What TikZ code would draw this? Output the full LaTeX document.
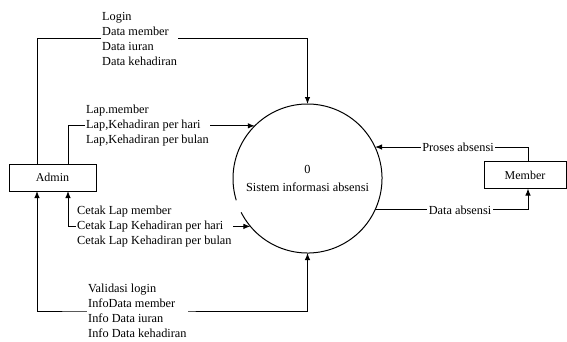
\documentclass[tikz,border=0pt]{standalone}
\usepackage{fontspec}
\setmainfont{Liberation Serif}
\usetikzlibrary{arrows.meta,calc,backgrounds}
\begin{document}
\begin{tikzpicture}[x=1pt,y=1pt,
  box/.style={draw,line width=1pt,minimum height=27pt,inner sep=0pt,outer sep=0pt,font=\fontsize{12}{15}\selectfont},
  lbl/.style={fill=white,inner sep=1.5pt,align=left,anchor=west,font=\fontsize{12.3}{15}\selectfont},
  tip/.tip={Latex[length=7pt,width=5.5pt]},
  flow/.style={line width=1pt,-tip},
  bflow/.style={line width=1pt,tip-tip}]
\useasboundingbox (0,0) rectangle (567,-341);

% process
\node[circle,minimum size=149pt,inner sep=0pt,outer sep=0pt,align=center,font=\fontsize{12.3}{15}\selectfont] (sys) at (307.5,-178.5) {0\\[3pt]Sistem informasi absensi};
\draw[line width=1pt] (sys.207) arc[start angle=207,end angle=557,radius=74.5pt];

% entities
\node[box,minimum width=87pt] (admin) at (52.5,-177.5) {Admin};
\node[box,minimum width=82pt] (member) at (525,-175) {Member};

\coordinate (a1) at ($(admin.north)+(-15.5,0)$);
\coordinate (a2) at ($(admin.north)+(15.5,0)$);
\coordinate (b1) at ($(admin.south)+(-15.5,0)$);
\coordinate (b2) at ($(admin.south)+(15.5,0)$);
\coordinate (m1) at ($(member.north)+(3,0)$);
\coordinate (m2) at ($(member.south)+(3,0)$);

% labels
\node[lbl] (t1) at (100.5,-38.5) {Login\\Data member\\Data iuran\\Data kehadiran};
\node[lbl] (t2) at (84.5,-125.8) {Lap.member\\Lap,Kehadiran per hari\\Lap,Kehadiran per bulan};
\node[lbl] (t3) at (75.5,-227) {Cetak Lap member\\Cetak Lap Kehadiran per hari\\Cetak Lap Kehadiran per bulan};
\node[lbl] (t4) at (86.5,-311) {Validasi login\\InfoData member\\Info Data iuran\\Info Data kehadiran};
\node[lbl,anchor=center] (t5) at (458,-147) {Proses absensi};
\node[lbl,anchor=center] (t6) at (460,-210) {Data absensi};

\begin{scope}[on background layer]
\draw[flow] (a1) |- (t1.west) -| (sys.north);
\draw[flow] (a2) |- (sys.135.2);
\draw[bflow] (b2) |- (sys.220.6);
\draw[bflow] (b1) |- (t4.west) -| (sys.south);
\draw[flow] (m1) |- (sys.25);
\draw[flow] (sys.-25) -| (m2);
\end{scope}
\end{tikzpicture}
\end{document}
